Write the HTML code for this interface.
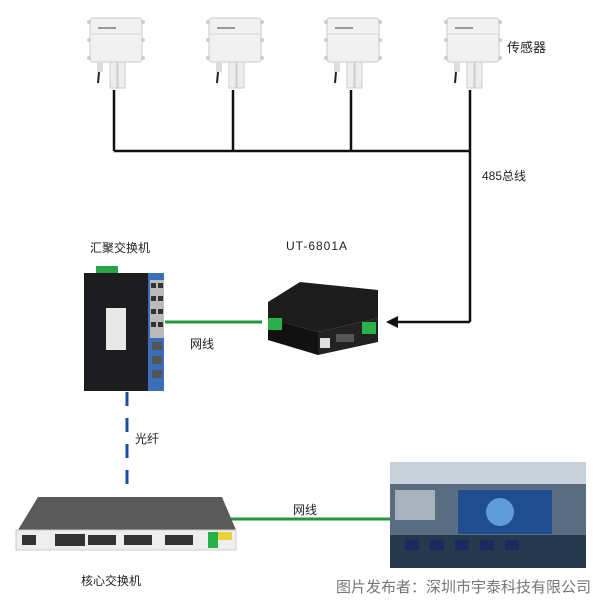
<!DOCTYPE html>
<html><head><meta charset="utf-8"><style>
body{margin:0;width:600px;height:600px;background:#fff;position:relative;overflow:hidden;font-family:"Liberation Sans","Noto Sans CJK SC",sans-serif}
.t{position:absolute;font-size:12px;color:#222;white-space:nowrap}
.a{position:absolute}
</style></head><body>
<svg class="a" style="left:0;top:0" width="600" height="600">
<defs>
<g id="sensor">
<rect x="-26" y="18" width="52" height="44" rx="3" fill="#f1f1f1" stroke="#ccc"/>
<line x1="-26" y1="34" x2="26" y2="34" stroke="#d6d6d6"/>
<circle cx="-27" cy="22" r="2" fill="#ccc"/><circle cx="27" cy="22" r="2" fill="#ccc"/>
<circle cx="-27" cy="40" r="2" fill="#ccc"/><circle cx="27" cy="40" r="2" fill="#ccc"/>
<circle cx="-27" cy="58" r="2" fill="#ccc"/><circle cx="27" cy="58" r="2" fill="#ccc"/>
<rect x="-18" y="27" width="18" height="2" fill="#999"/>
<rect x="-19" y="62" width="6" height="10" fill="#ddd"/>
<line x1="-17" y1="72" x2="-18" y2="83" stroke="#222" stroke-width="2"/>
<rect x="-6" y="62" width="7" height="26" fill="#eee" stroke="#ccc"/>
<rect x="2" y="62" width="7" height="26" fill="#eee" stroke="#ccc"/>
</g>
</defs>
<use href="#sensor" x="116" y="0"/>
<use href="#sensor" x="235" y="0"/>
<use href="#sensor" x="353" y="0"/>
<use href="#sensor" x="473" y="0"/>
<g stroke="#111" stroke-width="2.5" fill="none">
<line x1="114" y1="90" x2="114" y2="151"/>
<line x1="233" y1="90" x2="233" y2="151"/>
<line x1="351" y1="90" x2="351" y2="151"/>
<line x1="470" y1="90" x2="470" y2="322"/>
<line x1="114" y1="151" x2="470" y2="151"/>
<line x1="470" y1="322" x2="398" y2="322"/>
</g>
<polygon points="386,322 398,316 398,328" fill="#111"/>
<line x1="165" y1="322" x2="262" y2="322" stroke="#1e9a3c" stroke-width="3"/>
<line x1="127" y1="392" x2="127" y2="492" stroke="#1a4fa0" stroke-width="3" stroke-dasharray="14,12"/>
<line x1="230" y1="519" x2="392" y2="519" stroke="#1e9a3c" stroke-width="3"/>
<rect x="96" y="266" width="22" height="8" fill="#2aa34a"/>
<rect x="84" y="273" width="66" height="118" fill="#1d1d1f"/>
<rect x="148" y="273" width="16" height="118" fill="#3a6fb8"/>
<rect x="150" y="280" width="14" height="58" fill="#bbb"/>
<rect x="106" y="308" width="20" height="42" fill="#e8e8e8"/>
<g fill="#333"><rect x="151" y="283" width="5" height="5"/><rect x="158" y="283" width="5" height="5"/><rect x="151" y="296" width="5" height="5"/><rect x="158" y="296" width="5" height="5"/><rect x="151" y="309" width="5" height="5"/><rect x="158" y="309" width="5" height="5"/><rect x="151" y="322" width="5" height="5"/><rect x="158" y="322" width="5" height="5"/></g>
<g fill="#555"><rect x="152" y="342" width="10" height="8"/><rect x="152" y="356" width="10" height="8"/><rect x="152" y="370" width="10" height="8"/></g>
<polygon points="268,302 300,282 378,290 378,318 318,332 268,318" fill="#1c1c1c"/>
<polygon points="268,318 318,332 318,355 268,340" fill="#111"/>
<polygon points="318,332 378,318 378,342 318,355" fill="#222"/>
<rect x="268" y="318" width="14" height="12" fill="#2ab04a"/>
<rect x="362" y="322" width="14" height="12" fill="#2ab04a"/>
<rect x="320" y="338" width="10" height="10" fill="#ddd"/>
<rect x="336" y="334" width="18" height="8" fill="#555"/>
<polygon points="38,497 222,497 236,530 18,530" fill="#5a5a5a"/>
<rect x="16" y="530" width="220" height="20" fill="#eee" stroke="#ccc"/>
<g fill="#333"><rect x="22" y="535" width="14" height="10"/><rect x="55" y="534" width="30" height="12"/><rect x="88" y="535" width="28" height="10"/><rect x="124" y="535" width="28" height="10"/><rect x="165" y="535" width="28" height="10"/></g>
<rect x="208" y="532" width="10" height="16" fill="#2ab04a"/>
<rect x="218" y="532" width="14" height="8" fill="#e8d43a"/>
<rect x="390" y="462" width="196" height="106" fill="#5a6c80"/>
<rect x="390" y="462" width="196" height="22" fill="#c8d0da"/>
<rect x="395" y="490" width="40" height="30" fill="#a8b2bc"/>
<rect x="458" y="490" width="94" height="44" fill="#1f4d8e"/>
<circle cx="500" cy="512" r="14" fill="#5f9cd8"/>
<rect x="390" y="535" width="196" height="33" fill="#26384c"/>
<g fill="#1a2a60"><rect x="405" y="540" width="14" height="10"/><rect x="430" y="540" width="14" height="10"/><rect x="455" y="540" width="14" height="10"/><rect x="480" y="540" width="14" height="10"/><rect x="505" y="540" width="14" height="10"/></g>
</svg>
<div class="t" style="left:507px;top:37px;font-size:13px">传感器</div>
<div class="t" style="left:482px;top:167px">485总线</div>
<div class="t" style="left:90px;top:239px">汇聚交换机</div>
<div class="t" style="left:286px;top:239px;letter-spacing:1px">UT-6801A</div>
<div class="t" style="left:190px;top:335px">网线</div>
<div class="t" style="left:135px;top:430px">光纤</div>
<div class="t" style="left:293px;top:501px">网线</div>
<div class="t" style="left:81px;top:572px">核心交换机</div>
<div class="t" style="left:336px;top:576px;font-size:15px;color:#777">图片发布者：深圳市宇泰科技有限公司</div>
</body></html>
